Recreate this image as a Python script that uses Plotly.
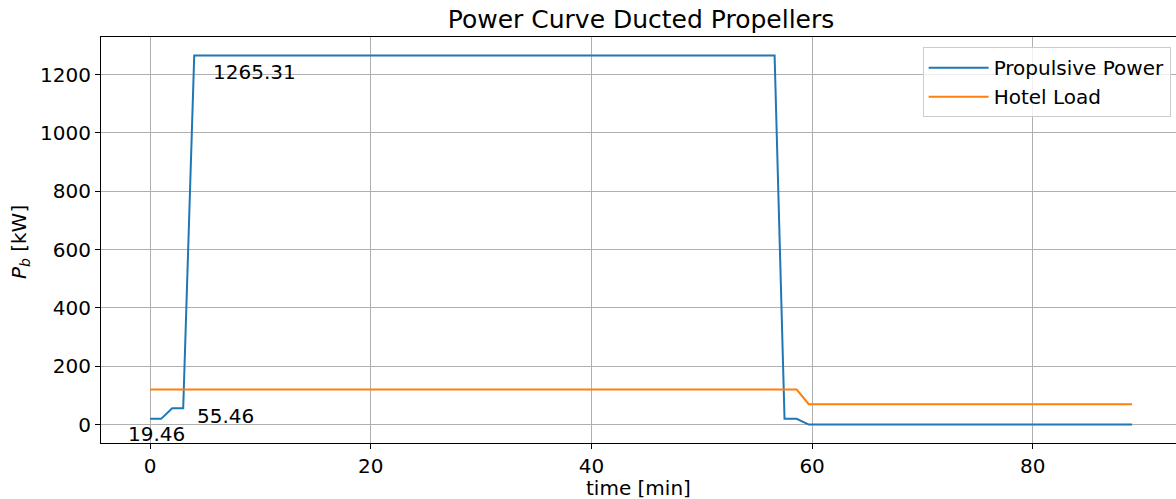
import plotly.graph_objects as go

# Mission profile: time in minutes, brake power in kW
time_min = [0, 1, 2, 3, 4, 56.6, 57.5, 58.6, 59.7, 89]
propulsive_kw = [19.46, 19.46, 55.46, 55.46, 1265.31, 1265.31, 19.46, 19.46, 0, 0]
hotel_kw = [120, 120, 120, 120, 120, 120, 120, 120, 70, 70]

# Value labels: (text, x, y, anchor)
value_labels = [
    ("19.46", 0.6, -31, "center"),
    ("55.46", 4.05, 31, "left"),
    ("1265.31", 5.5, 1209, "left"),
]

x_ticks = [0, 20, 40, 60, 80]
y_ticks = [0, 200, 400, 600, 800, 1000, 1200]

FONT = "DejaVu Sans"
BLUE = "#1f77b4"
ORANGE = "#ff7f0e"

fig = go.Figure()
fig.add_trace(go.Scatter(x=time_min, y=propulsive_kw, mode="lines",
                         name="Propulsive Power",
                         line=dict(color=BLUE, width=2)))
fig.add_trace(go.Scatter(x=time_min, y=hotel_kw, mode="lines",
                         name="Hotel Load",
                         line=dict(color=ORANGE, width=2)))

for text, x, y, anchor in value_labels:
    fig.add_annotation(x=x, y=y, text=text, showarrow=False,
                       xanchor=anchor, yanchor="middle",
                       font=dict(family=FONT, size=20, color="black"))

# Axis titles
fig.add_annotation(xref="paper", yref="paper", x=0.5, y=-0.112,
                   text="time [min]", showarrow=False,
                   xanchor="center", yanchor="middle",
                   font=dict(family=FONT, size=20, color="black"))
fig.add_annotation(xref="paper", yref="paper", x=-0.0753, y=0.495,
                   text="<i>P</i><sub><i>b</i></sub> [kW]", showarrow=False,
                   textangle=-90, xanchor="center", yanchor="middle",
                   font=dict(family=FONT, size=20, color="black"))

fig.update_layout(
    width=1176, height=499,
    margin=dict(l=101, r=0, t=37, b=56, pad=0),
    paper_bgcolor="white", plot_bgcolor="white",
    font=dict(family=FONT, size=20, color="black"),
    title=dict(text="Power Curve Ducted Propellers", xref="container",
               x=641 / 1176, xanchor="center",
               yref="container", y=1 - 19 / 499, yanchor="middle",
               font=dict(family=FONT, size=25, color="black")),
    showlegend=True,
    legend=dict(x=0.995, y=0.975, xanchor="right", yanchor="top",
                bgcolor="rgba(255,255,255,0.8)", bordercolor="#cccccc",
                borderwidth=1, font=dict(family=FONT, size=20, color="black"),
                tracegroupgap=0, itemwidth=60),
)

fig.update_xaxes(range=[-4.45, 92.98], tickvals=x_ticks,
                 showgrid=True, gridcolor="#b0b0b0", gridwidth=1,
                 zeroline=False, showline=True, linecolor="black",
                 linewidth=1, mirror=True, ticks="outside", ticklen=5,
                 tickwidth=1, tickcolor="black",
                 tickfont=dict(family=FONT, size=20, color="black"))
fig.update_yaxes(range=[-63.27, 1328.58], tickvals=y_ticks,
                 showgrid=True, gridcolor="#b0b0b0", gridwidth=1,
                 zeroline=False, showline=True, linecolor="black",
                 linewidth=1, ticks="outside", ticklen=5,
                 tickwidth=1, tickcolor="black",
                 tickfont=dict(family=FONT, size=20, color="black"))

fig.write_html("out.html")
